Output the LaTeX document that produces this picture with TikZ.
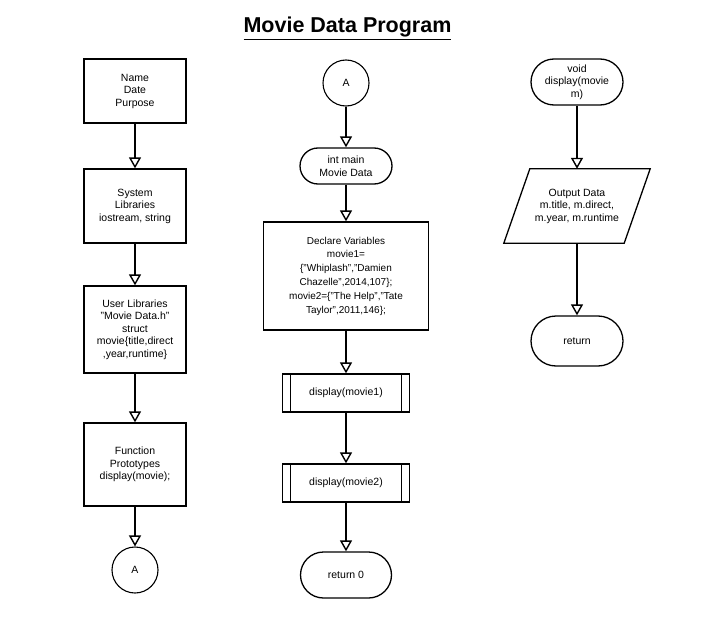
\documentclass[tikz,border=0pt]{standalone}
\usepackage{fontspec}
\setmainfont{Liberation Sans}
\usetikzlibrary{arrows.meta,shapes.misc}
\begin{document}
\begin{tikzpicture}[x=1pt,y=-1pt,
  every node/.style={font=\fontsize{10.5}{12.5}\selectfont, align=center, inner sep=0pt},
  procbox/.style={draw, line width=1.3pt, rectangle},
  termbox/.style={draw, line width=1.3pt, rounded rectangle},
  connbox/.style={draw, line width=1.1pt, circle, minimum size=46pt},
  flow/.style={line width=1.4pt, -{Triangle[width=12pt,length=11pt,fill=white]}}
]
\useasboundingbox (0,0) rectangle (718,626);
\node[anchor=base, font=\fontsize{21.5}{24}\bfseries\selectfont] (title) at (347.5,33) {\underline{Movie Data Program}};

% left column
\node[procbox, minimum width=102pt, minimum height=64pt] (L1) at (135,91) {Name\\Date\\Purpose};
\node[procbox, minimum width=102pt, minimum height=74pt] (L2) at (135,206) {System\\Libraries\\iostream, string};
\node[procbox, minimum width=102pt, minimum height=87pt] (L3) at (135,329.5) {User Libraries\\"Movie Data.h"\\struct\\movie\{title,direct\\,year,runtime\}};
\node[procbox, minimum width=102pt, minimum height=83pt] (L4) at (135,464.5) {Function\\Prototypes\\display(movie);};
\node[connbox] (LA) at (135,570) {A};

% middle column
\node[connbox] (MA) at (346,83) {A};
\node[termbox, minimum width=92pt, minimum height=36pt] (M1) at (346,166) {int main\\Movie Data};
\node[procbox, minimum width=165pt, minimum height=108pt, font=\fontsize{10}{13.8}\selectfont] (M2) at (346,276) {Declare Variables\\movie1=\\\{"Whiplash","Damien\\Chazelle",2014,107\};\\movie2=\{"The Help","Tate\\Taylor",2011,146\};};
\node[procbox, minimum width=127pt, minimum height=38pt] (M3) at (346,393) {display(movie1)};
\node[procbox, minimum width=127pt, minimum height=38pt] (M4) at (346,483) {display(movie2)};
\node[termbox, minimum width=91pt, minimum height=46pt] (M5) at (346,575) {return 0};
\foreach \n in {M3,M4}{
  \draw[line width=1.1pt] ([xshift=9pt]\n.north west) -- ([xshift=9pt]\n.south west);
  \draw[line width=1.1pt] ([xshift=-9pt]\n.north east) -- ([xshift=-9pt]\n.south east);
}

% right column
\node[termbox, minimum width=92pt, minimum height=46pt] (R1) at (577,82) {void\\display(movie\\m)};
\node[minimum width=120pt, minimum height=74pt] (R2) at (577,206) {Output Data\\m.title, m.direct,\\m.year, m.runtime};
\draw[line width=1.3pt] ([xshift=13pt]R2.north west) -- ([xshift=13pt]R2.north east) -- ([xshift=-13pt]R2.south east) -- ([xshift=-13pt]R2.south west) -- cycle;
\node[termbox, minimum width=92pt, minimum height=50pt] (R3) at (577,341) {return};

% connectors
\draw[flow] (L1.south) -- (L2.north);
\draw[flow] (L2.south) -- (L3.north);
\draw[flow] (L3.south) -- (L4.north);
\draw[flow] (L4.south) -- (LA.north);
\draw[flow] (MA.south) -- (M1.north);
\draw[flow] (M1.south) -- (M2.north);
\draw[flow] (M2.south) -- (M3.north);
\draw[flow] (M3.south) -- (M4.north);
\draw[flow] (M4.south) -- (M5.north);
\draw[flow] (R1.south) -- (R2.north);
\draw[flow] (R2.south) -- (R3.north);
\end{tikzpicture}
\end{document}
